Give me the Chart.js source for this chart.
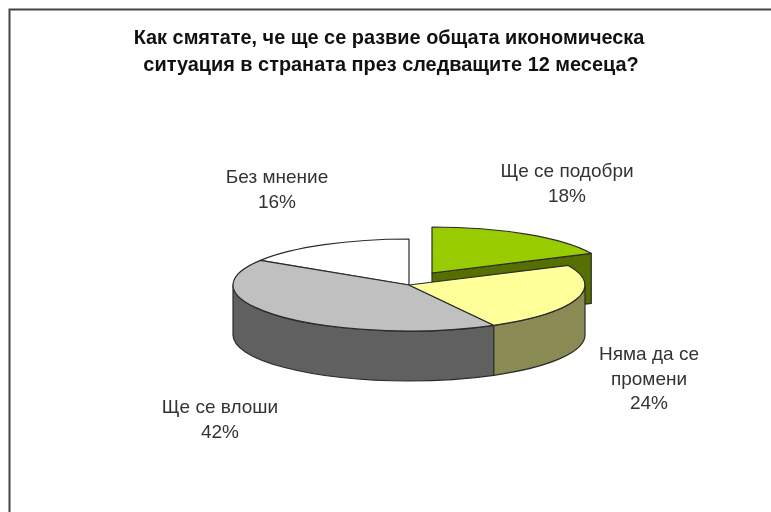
<!DOCTYPE html>
<html lang="bg">
<head>
    <meta charset="UTF-8">
    <title>Икономическа ситуация</title>
    <style>
        body {
            margin: 0;
            background-color: #ffffff;
        }

        canvas {
            display: block;
        }
    </style>
</head>
<body>
<canvas id="grafico" width="771" height="512"></canvas>

<script src="https://cdn.jsdelivr.net/npm/chart.js"></script>
<script>
    const titulo = [
        'Как смятате, че ще се развие общата икономическа',
        'ситуация в страната през следващите 12 месеца?'
    ];
    const categorias = ['Ще се подобри', 'Няма да се промени', 'Ще се влоши', 'Без мнение'];
    const valores = [18, 24, 42, 16];

    const coresTopo = ['#99cc00', '#ffff99', '#c0c0c0', '#ffffff'];
    const coresLado = ['#556f00', '#8a8a55', '#606060', '#808080'];

    // Pie is squashed vertically and extruded downwards to look 3D
    const RAIO = 176;
    const ACHATAR = 46 / 176;
    const ALTURA = 50;
    const LINHA = '#2b2b2b';

    // Shift of the pulled-out slice
    const deslocX = [23, 0, 0, 0];
    const deslocY = [-12, 0, 0, 0];

    // Where each slice label is centred, with one baseline per text line
    const rotulos = [
        { x: 567, ys: [177, 202], linhas: ['Ще се подобри'] },
        { x: 649, ys: [360, 385, 409], linhas: ['Няма да се', 'промени'] },
        { x: 220, ys: [413, 438], linhas: ['Ще се влоши'] },
        { x: 277, ys: [183, 208], linhas: ['Без мнение'] }
    ];

    function caminhoLado(ctx, p, a0, a1) {
        const ry = p.outerRadius * ACHATAR;
        ctx.beginPath();
        ctx.ellipse(p.x, p.y, p.outerRadius, ry, 0, a0, a1);
        ctx.ellipse(p.x, p.y + ALTURA, p.outerRadius, ry, 0, a1, a0, true);
        ctx.closePath();
    }

    function desenharFatia(ctx, arco, i) {
        const p = arco.getProps(['x', 'y', 'startAngle', 'endAngle', 'outerRadius'], true);
        const ry = p.outerRadius * ACHATAR;

        ctx.save();
        ctx.translate(deslocX[i], deslocY[i]);
        ctx.lineWidth = 1.2;
        ctx.lineJoin = 'round';
        ctx.strokeStyle = LINHA;
        ctx.fillStyle = coresLado[i];

        // Cut face, only seen on the pulled-out slice
        if (deslocX[i] !== 0) {
            const fimX = p.x + p.outerRadius * Math.cos(p.endAngle);
            const fimY = p.y + ry * Math.sin(p.endAngle);
            ctx.beginPath();
            ctx.moveTo(p.x, p.y);
            ctx.lineTo(fimX, fimY);
            ctx.lineTo(fimX, fimY + ALTURA);
            ctx.lineTo(p.x, p.y + ALTURA);
            ctx.closePath();
            ctx.fill();
            ctx.stroke();
        }

        // Outer wall, front half of the ellipse only
        const a0 = Math.max(p.startAngle, 0);
        const a1 = Math.min(p.endAngle, Math.PI);
        if (a1 > a0) {
            caminhoLado(ctx, p, a0, a1);
            ctx.fill();
            ctx.stroke();
        }

        // Top face comes from the library's arc element, under the squash
        ctx.save();
        ctx.translate(p.x, p.y);
        ctx.scale(1, ACHATAR);
        ctx.translate(-p.x, -p.y);
        arco.draw(ctx);
        ctx.restore();

        // Outline is stroked unscaled so the line keeps an even width
        ctx.beginPath();
        ctx.moveTo(p.x, p.y);
        ctx.ellipse(p.x, p.y, p.outerRadius, ry, 0, p.startAngle, p.endAngle);
        ctx.closePath();
        ctx.stroke();
        ctx.restore();
    }

    const pizza3d = {
        id: 'pizza3d',
        beforeDatasetsDraw(chart) {
            const ctx = chart.ctx;
            const arcos = chart.getDatasetMeta(0).data;
            // Pulled-out slice goes first, the rest of the pie overlaps it
            [0, 3, 2, 1].forEach(i => desenharFatia(ctx, arcos[i], i));
            return false;
        },
        afterDraw(chart) {
            const ctx = chart.ctx;
            ctx.save();

            // Frame, open on the right and at the bottom
            ctx.strokeStyle = '#444444';
            ctx.lineWidth = 2;
            ctx.beginPath();
            ctx.moveTo(9.5, 512);
            ctx.lineTo(9.5, 9.5);
            ctx.lineTo(771, 9.5);
            ctx.stroke();

            ctx.textAlign = 'center';
            ctx.textBaseline = 'alphabetic';

            ctx.fillStyle = '#111111';
            ctx.font = 'bold 19.9px "Liberation Sans", Arial, sans-serif';
            ctx.fillText(titulo[0], 389, 44);
            ctx.fillText(titulo[1], 391, 71);

            ctx.fillStyle = '#333333';
            ctx.font = '19px "Liberation Sans", Arial, sans-serif';
            rotulos.forEach((r, i) => {
                const linhas = r.linhas.concat(valores[i] + '%');
                linhas.forEach((t, j) => ctx.fillText(t, r.x, r.ys[j]));
            });
            ctx.restore();
        }
    };

    new Chart(document.getElementById('grafico').getContext('2d'), {
        type: 'pie',
        data: {
            labels: categorias,
            datasets: [{
                data: valores,
                backgroundColor: coresTopo,
                borderWidth: 0,
                radius: RAIO
            }]
        },
        options: {
            responsive: false,
            animation: false,
            layout: {
                padding: { left: 47, top: 58 }
            },
            plugins: {
                legend: { display: false },
                title: { display: false },
                tooltip: { enabled: false }
            }
        },
        plugins: [pizza3d]
    });
</script>
</body>
</html>
